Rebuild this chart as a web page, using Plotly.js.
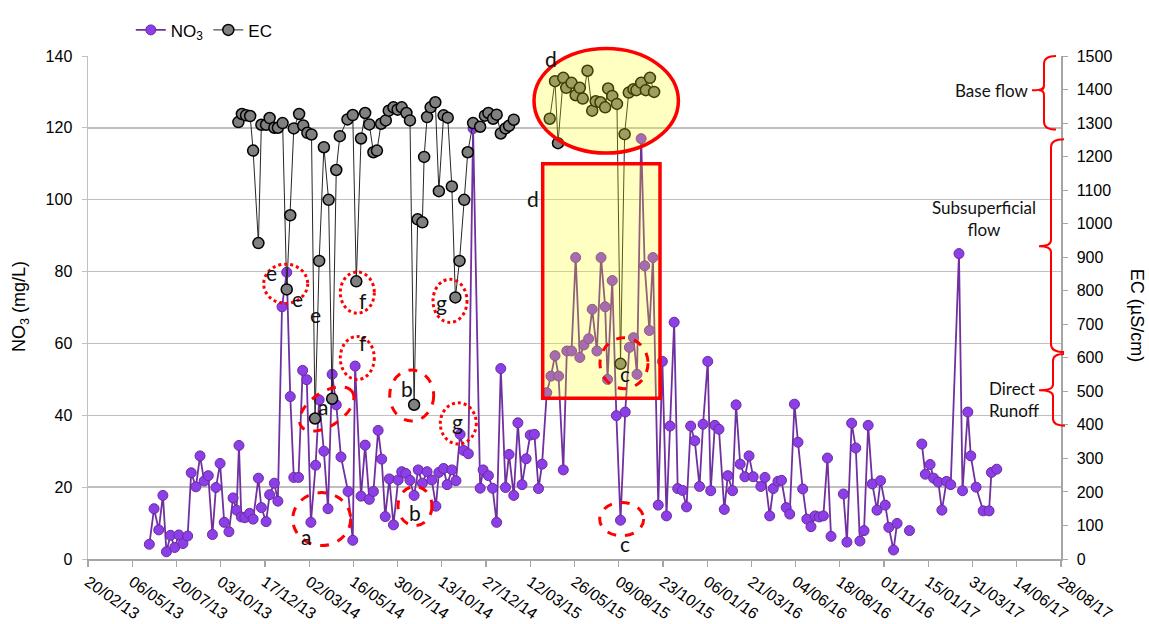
<!DOCTYPE html>
<html><head><meta charset="utf-8">
<script src="https://cdn.plot.ly/plotly-3.0.1.min.js"></script>
<style>html,body{margin:0;padding:0;background:#fff}#chart{width:1149px;height:624px}</style>
</head><body><div id="chart"></div>
<script>
// ---- DATA ----
const startDay = '2013-02-20';           // first axis tick
const endDay = '2017-08-28';             // last axis tick
// sample dates as days after startDay
const no3Day = [
 104,112,120,127,133,140,147,154,161,169,
 175,183,190,197,204,211,217,224,231,239,
 246,252,256,260,266,274,280,289,294,302,
 308,316,322,329,337,343,349,357,364,371,
 378,386,392,400,407,414,421,429,441,449,
 453,463,470,477,484,492,498,504,511,518,
 526,532,539,546,553,560,567,575,583,590,
 595,603,609,617,624,631,637,645,653,665,
 670,679,686,693,700,708,714,722,729,736,
 743,750,757,764,770,778,785,792,798,806,
 812,820,827,834,841,849,855,863,870,877,
 881,889,896,903,911,918,925,931,938,944,
 952,958,967,974,981,987,994,1000,1008,1015,
 1022,1029,1037,1043,1051,1056,1063,1070,1079,1085,
 1093,1099,1106,1114,1121,1128,1141,1148,1156,1162,
 1170,1176,1184,1190,1198,1204,1212,1219,1226,1233,
 1240,1247,1254,1260,1271,1281,1287,1295,1302,1309,
 1316,1323,1330,1338,1344,1352,1358,1366,1372,1382,
 1393,1403,1414,1420,1428,1434,1442,1448,1456,1463,
 1477,1483,1492,1497,1506,1518,1528,1532,1541];
const no3Val = [
 4.1,14,8.1,17.7,2,6.6,3.2,6.7,4.3,6.4,
 24,20.1,28.7,21.7,23.2,6.8,19.9,26.6,10.2,7.6,
 17,13.6,31.6,11.7,11.5,12.7,11.1,22.5,14.3,10.4,
 17.9,21.1,16.1,70.2,79.8,45.2,22.7,22.7,52.5,49.9,
 10.2,26.1,44.3,30,14,51.4,42.9,28.4,18.8,5.2,
 53.7,17.5,31.7,16.6,18.8,35.8,27.8,11.8,22.3,9.5,
 22,24.3,23.8,21.9,17.7,24.8,21.1,24.3,22,14.7,
 24.1,25.2,20.7,24.8,21.8,34.7,30.2,29.3,119.8,19.7,
 24.8,23.2,19.7,10.2,53,19.9,29.1,17.7,37.9,20.7,
 27.9,34.5,34.7,19.6,26.4,46.3,50.9,56.6,50.9,24.8,
 57.9,57.9,83.9,56.1,59.6,61.3,69.5,57.9,83.9,70.2,
 50,77.5,39.9,10.8,40.9,58.9,61.6,51.4,117,81.6,
 63.6,83.9,15,55,12,37,65.9,19.6,19.1,14.5,
 37,32.9,20.2,37.5,55,19,37.2,36.1,13.8,23.2,
 19,42.9,26.4,22.9,28.7,22.9,20.2,22.7,12,19.6,
 21.6,21.9,14.3,12.5,43.1,32.5,19.5,11.1,9,12,
 11.7,12,28.1,6.3,null,18.1,4.7,37.8,30.9,5,
 7.9,37.2,20.9,13.6,21.8,15,8.8,2.5,9.9,null,
 7.9,null,32,23.6,26.3,22.5,21.4,13.6,21.6,20.7,
 85,19,40.9,28.7,20,13.4,13.4,24.1,25];
const ecDay = [
 255,261,268,275,280,289,294,302,308,316,
 322,330,337,343,349,358,365,372,379,385,
 392,400,408,414,421,427,440,449,455,463,
 470,477,484,490,497,505,510,518,525,532,
 540,546,553,559,567,570,575,581,589,595,
 603,610,617,623,630,638,644,653,665,673,
 679,687,693,700,708,714,722,746,783,792,
 797,806,811,820,827,834,839,847,855,861,
 869,877,882,889,897,903,910,917,925,930,
 938,946,953,960];
const ecVal = [
 1303,1327,1323,1321,1218,942,1295,1295,1315,1286,
 1286,1300,804,1025,1284,1327,1293,1271,1266,419,
 889,1228,1071,478,1160,1261,1311,1324,828,1254,
 1330,1296,1213,1218,1298,1308,1337,1347,1340,1347,
 1330,1308,460,1013,1004,1199,1318,1347,1362,1097,
 1323,1316,1111,780,889,1071,1213,1300,1289,1322,
 1330,1313,1325,1269,1284,1292,1310,null,1313,1425,
 1240,1435,1405,1420,1383,1405,1373,1456,1337,1365,
 1362,1347,1403,1381,1357,582,1267,1391,1401,1398,
 1420,1398,1435,1393];
const xTickStepDays = 75;
const no3Range = [0, 140];
const ecRange = [0, 1500];

// ---- helpers ----
const t0 = Date.parse(startDay + 'T00:00:00Z');
const toDate = d => new Date(t0 + d * 86400000).toISOString().slice(0, 10);
const PL = 88, PR = 1061, PT = 46, PB = 559;
const px = x => (x - PL) / (PR - PL);
const py = y => (PB - y) / (PB - PT);

const no3 = {
  x: no3Day.map(toDate), y: no3Val, name: 'NO<sub>3</sub>', type: 'scatter', mode: 'lines+markers',
  line: {color: '#7030a0', width: 1.8},
  marker: {size: 10, color: '#8c3fe8', line: {color: '#6a2c9c', width: 1}},
  connectgaps: false, yaxis: 'y'
};
const ec = {
  x: ecDay.map(toDate), y: ecVal, name: 'EC', type: 'scatter', mode: 'lines+markers',
  line: {color: '#262626', width: 1},
  marker: {size: 11, color: '#808080', line: {color: '#000', width: 1.5}},
  connectgaps: false, yaxis: 'y2'
};

const shapes = [];
const circ = (cx, cy, rx, ry, dash, extra) => Object.assign({
  type: 'circle', xref: 'paper', yref: 'paper', layer: 'above',
  x0: px(cx - rx), x1: px(cx + rx), y0: py(cy + ry), y1: py(cy - ry),
  line: {color: '#ff0000', width: 3, dash: dash}
}, extra || {});
function ellPath(cx, cy, a, b, deg) {
  const ang = deg * Math.PI / 180; let s = '';
  for (let i = 0; i <= 60; i++) {
    const t = i / 60 * 2 * Math.PI;
    const x = cx + a * Math.cos(t) * Math.cos(ang) - b * Math.sin(t) * Math.sin(ang);
    const y = cy + a * Math.cos(t) * Math.sin(ang) + b * Math.sin(t) * Math.cos(ang);
    s += (i ? 'L' : 'M') + px(x).toFixed(5) + ',' + py(y).toFixed(5);
  }
  return s + 'Z';
}
function pathPx(segs) {
  return segs.map(s => {
    const c = s[0]; const v = s.slice(1); const out = [];
    for (let i = 0; i < v.length; i += 2) out.push(px(v[i]).toFixed(5) + ',' + py(v[i + 1]).toFixed(5));
    return c + out.join(' ');
  }).join(' ');
}
const hiFill = 'rgba(255,255,0,0.24)';
// highlighted zones (d)
shapes.push({type: 'rect', xref: 'paper', yref: 'paper', layer: 'above',
  x0: px(542.7), x1: px(660), y0: py(395), y1: py(156),
  fillcolor: hiFill, line: {color: '#ff0000', width: 3.5}});
shapes.push(circ(606.2, 91.7, 72.2, 53.3, 'solid', {fillcolor: hiFill, line: {color: '#ff0000', width: 3.5}}));
// dotted circles
shapes.push(circ(285.7, 278.3, 22, 20, 'dot'));
shapes.push(circ(357.3, 287.3, 17, 21, 'dot'));
shapes.push(circ(357.3, 354, 17, 22, 'dot'));
shapes.push(circ(450, 295.7, 17, 22, 'dot'));
shapes.push(circ(458.3, 420.7, 18, 21, 'dot'));
// dashed circles
shapes.push({type: 'path', xref: 'paper', yref: 'paper', layer: 'above', path: ellPath(326.7, 406, 31, 17, -35),
  line: {color: '#ff0000', width: 3, dash: 'dash'}});
shapes.push(circ(321.7, 518.3, 29, 27, 'dash'));
shapes.push(circ(411.7, 392.3, 22, 26, 'dash'));
shapes.push(circ(415, 505, 17, 20, 'dash'));
shapes.push(circ(624, 359.3, 24, 26, 'dash'));
shapes.push(circ(621.7, 518.3, 22, 17, 'dash'));
// braces
const braceLine = {color: '#ff0000', width: 2};
shapes.push({type: 'path', xref: 'paper', yref: 'paper', layer: 'above', line: braceLine,
  path: pathPx([['M', 1056, 46], ['Q', 1044, 46, 1044, 54], ['L', 1044, 76], ['Q', 1044, 81, 1032, 81],
    ['M', 1044, 76], ['Q', 1044, 81, 1039, 81], ['Q', 1044, 81, 1044, 86], ['L', 1044, 113], ['Q', 1044, 121, 1056, 121]])});
shapes.push({type: 'path', xref: 'paper', yref: 'paper', layer: 'above', line: braceLine,
  path: pathPx([['M', 1064, 131], ['Q', 1051, 131, 1051, 139], ['L', 1051, 234], ['Q', 1051, 240, 1039, 240],
    ['Q', 1051, 240, 1051, 246], ['L', 1051, 340], ['Q', 1051, 348, 1064, 348]])});
shapes.push({type: 'path', xref: 'paper', yref: 'paper', layer: 'above', line: braceLine,
  path: pathPx([['M', 1064, 350], ['Q', 1053, 350, 1053, 357], ['L', 1053, 381], ['Q', 1053, 387, 1039, 387],
    ['Q', 1053, 387, 1053, 393], ['L', 1053, 416], ['Q', 1053, 423, 1065, 423]])});

const letterFont = {family: 'Lato, Carlito, sans-serif', size: 21, color: '#111'};
const letters = [
  ['e', 271.7, 267.3], ['e', 297.3, 293.3], ['e', 315, 310], ['f', 362.7, 295], ['f', 362.7, 338.3],
  ['g', 441.7, 297.7], ['g', 457.7, 418.3], ['a', 322.7, 403.3], ['a', 306, 536], ['b', 406.7, 385],
  ['b', 415, 511.7], ['c', 625, 370], ['c', 625, 543.3], ['d', 550.7, 48.3], ['d', 532.7, 191.7]];
const annotations = letters.map(l => ({text: l[0], x: px(l[1]), y: py(l[2]), xref: 'paper', yref: 'paper',
  xanchor: 'center', yanchor: 'middle', showarrow: false, font: letterFont}));
const labelFont = {family: 'Lato, Carlito, sans-serif', size: 17, color: '#111'};
annotations.push({text: 'Base flow', x: px(1031), y: py(81), xref: 'paper', yref: 'paper', xanchor: 'right', yanchor: 'middle', showarrow: false, font: labelFont});
annotations.push({text: 'Subsuperficial<br>flow', x: px(984), y: py(212), xref: 'paper', yref: 'paper', xanchor: 'center', yanchor: 'middle', align: 'center', showarrow: false, font: labelFont});
annotations.push({text: 'Direct<br>Runoff', x: px(987), y: py(396), xref: 'paper', yref: 'paper', xanchor: 'left', yanchor: 'middle', align: 'left', showarrow: false, font: labelFont});
// axis titles
annotations.push({text: 'NO<sub>3</sub> (mg/L)', x: px(20), y: py(302), xref: 'paper', yref: 'paper', textangle: -90,
  xanchor: 'center', yanchor: 'middle', showarrow: false, font: {size: 18, color: '#000'}});
annotations.push({text: 'EC (µS/cm)', x: px(1137), y: py(310), xref: 'paper', yref: 'paper', textangle: 90,
  xanchor: 'center', yanchor: 'middle', showarrow: false, font: {size: 18, color: '#000'}});

const layout = {
  width: 1149, height: 624,
  margin: {l: PL, r: 1149 - PR, t: PT, b: 624 - PB, pad: 0},
  paper_bgcolor: '#fff', plot_bgcolor: '#fff',
  font: {family: 'Liberation Sans, Arial, sans-serif', color: '#000', size: 16},
  showlegend: true,
  legend: {orientation: 'h', x: 0.044, xanchor: 'left', y: 1.051, yanchor: 'middle', font: {size: 17}, bgcolor: 'rgba(0,0,0,0)'},
  hovermode: false,
  xaxis: {type: 'date', range: [startDay, endDay], tick0: startDay, dtick: xTickStepDays * 86400000,
    tickformat: '%d/%m/%y', tickangle: 35, ticks: 'outside', ticklen: 6, tickcolor: '#a6a6a6', tickwidth: 1.2,
    showline: true, linecolor: '#a6a6a6', linewidth: 1.5, showgrid: false, zeroline: false, automargin: false,
    tickfont: {size: 16, color: '#000'}},
  yaxis: {range: no3Range, dtick: 20, tick0: 0, showgrid: true, gridcolor: '#c0c0c0', gridwidth: 1.5,
    showline: true, linecolor: '#c0c0c0', linewidth: 1.5, ticks: 'outside', ticklen: 5, tickcolor: '#c0c0c0',
    zeroline: false, automargin: false, ticklabelstandoff: 6, tickfont: {size: 16, color: '#000'}},
  yaxis2: {range: ecRange, dtick: 100, tick0: 0, overlaying: 'y', side: 'right', showgrid: false,
    showline: true, linecolor: '#a6a6a6', linewidth: 1.5, ticks: 'outside', ticklen: 5, tickcolor: '#a6a6a6',
    zeroline: false, automargin: false, ticklabelstandoff: 6, tickfont: {size: 16, color: '#000'}},
  shapes: shapes,
  annotations: annotations
};
Plotly.newPlot('chart', [no3, ec], layout, {displayModeBar: false, staticPlot: true});
</script></body></html>
